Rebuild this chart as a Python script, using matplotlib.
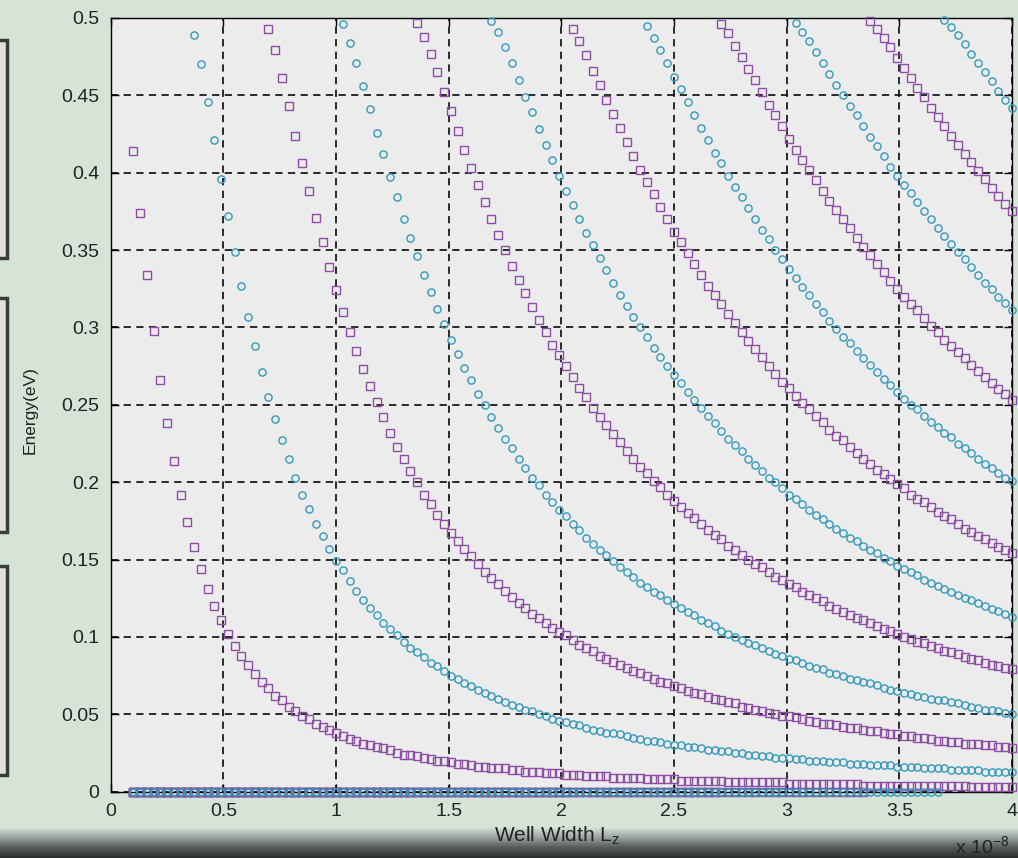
import numpy as np
import matplotlib
matplotlib.use("Agg")
import matplotlib.pyplot as plt
from matplotlib.patches import Rectangle
from matplotlib.colors import LinearSegmentedColormap

# Well widths (m): 1 nm to 40 nm in 0.3 nm steps
well_width = np.linspace(1e-9, 4e-8, 131)

# Bound-state energies in meV for each level; 0 where the level is not bound yet
E1 = [414, 374, 334, 298, 266, 238, 214, 192, 174, 158,
      144, 131, 120, 111, 102, 94, 88, 82, 76, 71,
      67, 62, 59, 55, 52, 49, 47, 44, 42, 40,
      38, 36, 34, 33, 31, 30, 29, 28, 27, 25,
      24, 24, 23, 22, 21, 20, 20, 19, 18, 18,
      17, 16, 16, 15, 15, 15, 14, 14, 13, 13,
      13, 12, 12, 12, 11, 11, 11, 10, 10, 10,
      10, 9, 9, 9, 9, 9, 8, 8, 8, 8,
      8, 7, 7, 7, 7, 7, 7, 7, 6, 6,
      6, 6, 6, 6, 6, 6, 6, 5, 5, 5,
      5, 5, 5, 5, 5, 5, 5, 5, 4, 4,
      4, 4, 4, 4, 4, 4, 4, 4, 4, 4,
      4, 4, 4, 4, 3, 3, 3, 3, 3, 3, 3]

E2 = [0] * 9 + [489, 470, 446, 421, 396, 372, 349, 327, 307, 288,
                271, 255, 241, 227, 215, 203, 192, 183, 173, 165,
                157, 149, 143, 136, 130, 124, 119, 114, 109, 105,
                101, 97, 93, 90, 87, 83, 81, 78, 75, 73,
                70, 68, 66, 64, 62, 60, 58, 56, 55, 53,
                52, 50, 49, 47, 46, 45, 44, 43, 41, 40,
                39, 38, 38, 37, 36, 35, 34, 33, 33, 32,
                31, 30, 30, 29, 29, 28, 27, 27, 26, 26,
                25, 25, 24, 24, 23, 23, 22, 22, 22, 21,
                21, 20, 20, 20, 19, 19, 19, 18, 18, 18,
                17, 17, 17, 17, 16, 16, 16, 16, 15, 15,
                15, 15, 14, 14, 14, 14, 14, 13, 13, 13,
                13, 13]

E3 = [0] * 20 + [493, 479, 461, 443, 424, 406, 388, 371, 355, 339,
                 324, 310, 297, 285, 273, 262, 252, 242, 232, 223,
                 215, 207, 200, 192, 186, 179, 173, 167, 162, 157,
                 152, 147, 142, 138, 134, 130, 126, 122, 119, 115,
                 112, 109, 106, 103, 101, 98, 95, 93, 91, 88,
                 86, 84, 82, 80, 78, 77, 75, 73, 71, 70,
                 68, 67, 65, 64, 63, 61, 60, 59, 58, 57,
                 55, 54, 53, 52, 51, 50, 49, 49, 48, 47,
                 46, 45, 44, 44, 43, 42, 41, 41, 40, 39,
                 39, 38, 37, 37, 36, 36, 35, 35, 34, 33,
                 33, 32, 32, 31, 31, 31, 30, 30, 29, 29,
                 28]

E4 = [0] * 31 + [496, 484, 471, 456, 441, 426, 412, 397, 384, 370,
                 358, 346, 334, 323, 312, 302, 292, 283, 274, 266,
                 257, 250, 242, 235, 228, 222, 215, 209, 203, 198,
                 192, 187, 182, 178, 173, 169, 164, 160, 156, 153,
                 149, 145, 142, 139, 135, 132, 129, 127, 124, 121,
                 119, 116, 114, 111, 109, 107, 104, 102, 100, 98,
                 96, 95, 93, 91, 89, 88, 86, 85, 83, 81,
                 80, 79, 77, 76, 75, 73, 72, 71, 70, 69,
                 67, 66, 65, 64, 63, 62, 61, 60, 59, 59,
                 58, 57, 56, 55, 54, 53, 53, 52, 51, 50]

E5 = [0] * 42 + [497, 488, 477, 465, 452, 440, 427, 415, 403, 392,
                 381, 370, 360, 350, 340, 331, 322, 313, 305, 297,
                 289, 282, 275, 268, 261, 255, 248, 242, 237, 231,
                 226, 220, 215, 210, 206, 201, 197, 192, 188, 184,
                 180, 177, 173, 169, 166, 163, 159, 156, 153, 150,
                 147, 145, 142, 139, 137, 134, 132, 129, 127, 125,
                 123, 120, 118, 116, 114, 112, 111, 109, 107, 105,
                 104, 102, 100, 99, 97, 96, 94, 93, 91, 90,
                 89, 87, 86, 85, 83, 82, 81, 80, 79]

E6 = [0] * 53 + [498, 491, 481, 471, 460, 449, 439, 428, 418, 408,
                 398, 388, 379, 370, 361, 353, 345, 337, 329, 321,
                 314, 307, 300, 294, 287, 281, 275, 269, 264, 258,
                 253, 248, 243, 238, 233, 228, 224, 220, 215, 211,
                 207, 203, 200, 196, 192, 189, 186, 182, 179, 176,
                 173, 170, 167, 164, 162, 159, 156, 154, 151, 149,
                 146, 144, 142, 140, 137, 135, 133, 131, 129, 127,
                 125, 124, 122, 120, 118, 117, 115, 113]

E7 = [0] * 65 + [493, 485, 476, 466, 457, 447, 438, 429, 420, 411,
                 402, 394, 386, 378, 370, 362, 355, 348, 341, 334,
                 327, 321, 315, 309, 303, 297, 291, 286, 281, 275,
                 270, 265, 261, 256, 251, 247, 243, 239, 234, 230,
                 227, 223, 219, 215, 212, 208, 205, 202, 199, 196,
                 192, 189, 187, 184, 181, 178, 176, 173, 170, 168,
                 165, 163, 161, 158, 156, 154]

E8 = [0] * 76 + [495, 487, 479, 471, 462, 454, 446, 437, 429, 421,
                 413, 406, 398, 391, 384, 377, 370, 363, 357, 350,
                 344, 338, 332, 326, 321, 315, 310, 304, 299, 294,
                 290, 285, 280, 276, 271, 267, 263, 258, 254, 250,
                 247, 243, 239, 236, 232, 229, 225, 222, 219, 215,
                 212, 209, 206, 203, 201]

E9 = [0] * 87 + [496, 490, 482, 475, 467, 460, 452, 444, 437, 430,
                 422, 415, 408, 402, 395, 388, 382, 376, 370, 364,
                 358, 352, 347, 341, 336, 330, 325, 320, 315, 311,
                 306, 301, 297, 292, 288, 284, 280, 276, 272, 268,
                 264, 260, 257, 253]

E10 = [0] * 98 + [497, 491, 485, 478, 471, 464, 457, 450, 443, 437,
                  430, 423, 417, 411, 404, 398, 392, 387, 381, 375,
                  370, 364, 359, 354, 349, 344, 339, 334, 329, 325,
                  320, 316, 311]

E11 = [0] * 109 + [498, 493, 487, 481, 474, 468, 461, 455, 449, 442,
                   436, 430, 424, 418, 412, 407, 401, 396, 390, 385,
                   380, 375]

E12 = [0] * 120 + [499, 494, 489, 483, 477, 471, 465, 459, 453, 447, 442]

levels = [E1, E2, E3, E4, E5, E6, E7, E8, E9, E10, E11, E12]

x_ticks = [0, 0.5, 1, 1.5, 2, 2.5, 3, 3.5, 4]
x_tick_labels = ['0', '0.5', '1', '1.5', '2', '2.5', '3', '3.5', '4']
y_ticks = [0, 0.05, 0.1, 0.15, 0.2, 0.25, 0.3, 0.35, 0.4, 0.45, 0.5]
y_tick_labels = ['0', '0.05', '0.1', '0.15', '0.2', '0.25', '0.3', '0.35', '0.4', '0.45', '0.5']

# ---- styling ----
plt.rcParams['font.family'] = ['Liberation Sans', 'DejaVu Sans']
plt.rcParams['mathtext.fontset'] = 'custom'
plt.rcParams['mathtext.rm'] = 'Liberation Sans'
plt.rcParams['mathtext.it'] = 'Liberation Sans'

W, H = 1018, 858
fig = plt.figure(figsize=(W / 100, H / 100), dpi=100, facecolor='#d6e4d8')

# dark shaded strip along the bottom of the window
band = fig.add_axes([0, 0, 1, 30 / H])
band.axis('off')
grad = np.linspace(0, 1, 64)[:, None]
cm = LinearSegmentedColormap.from_list('band', ['#2b2f2f', '#555b5a', '#9aa39f', '#d6e4d8'])
band.imshow(grad, aspect='auto', cmap=cm, extent=[0, 1, 0, 1], origin='lower')
band.set_xlim(0, 1)
band.set_ylim(0, 1)

# control panels at the left edge of the window
for top, bot in ((40, 258), (298, 532), (566, 775)):
    fig.patches.append(Rectangle((-10 / W, 1 - bot / H), 17 / W, (bot - top) / H,
                                 transform=fig.transFigure, facecolor='#dfe2df',
                                 edgecolor='#3c3c3c', linewidth=2.5))

ax = fig.add_axes([110.7 / W, 1 - 791.7 / H, (1012 - 110.7) / W, (791.7 - 18) / H])
ax.set_facecolor('#ececec')

x = well_width / 1e-8
sq_color = '#8c4fa3'
ci_color = '#3399bb'
for i, lev in enumerate(levels):
    energy = np.array(lev) / 1000.0
    if i % 2 == 0:
        ax.plot(x, energy, ls='none', marker='s', ms=5.6, mfc='none', mec=sq_color,
                mew=1.0, clip_on=False, zorder=3)
    else:
        ax.plot(x, energy, ls='none', marker='o', ms=5.2, mfc='none', mec=ci_color,
                mew=1.0, clip_on=False, zorder=3)

ax.set_xlim(0, 4)
ax.set_ylim(0, 0.5)
ax.set_xticks(x_ticks)
ax.set_xticklabels(x_tick_labels)
ax.set_yticks(y_ticks)
ax.set_yticklabels(y_tick_labels)
ax.tick_params(direction='in', length=6, width=1, top=True, right=True,
               labelsize=14, labelcolor='#222222', pad=8)
ax.grid(True, color='#1a1a1a', linestyle=(0, (4, 3)), linewidth=1.3)
ax.set_axisbelow(True)
for sp in ax.spines.values():
    sp.set_linewidth(1.0)

fig.text(30 / W, 1 - 410 / H, 'Energy(eV)', rotation=90, ha='center', va='center',
         fontsize=12.5, color='#222222')
fig.text(557 / W, 1 - 836 / H, r'Well Width L$_\mathregular{z}$', ha='center', va='center',
         fontsize=15, color='#222222')
fig.text(955 / W, 1 - 853 / H, r'x 10$^\mathregular{-8}$', ha='left', va='baseline',
         fontsize=14, color='#222222')

fig.savefig('out.png', dpi=100, facecolor=fig.get_facecolor())
